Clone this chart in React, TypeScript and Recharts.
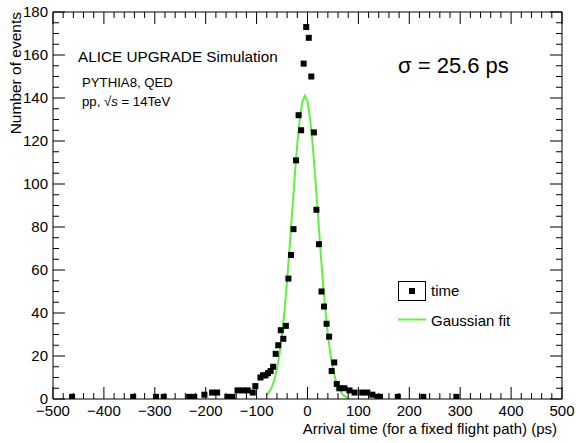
import React from 'react';
import { ComposedChart, XAxis, YAxis, Scatter, Line, Customized } from 'recharts';

// Histogram bin centres (ps) and counts ("time")
const timeX = [
  -462.5, -342.5, -297.5, -282.5, -232.5, -222.5, -202.5, -187.5, -177.5, -157.5,
  -147.5, -137.5, -127.5, -117.5, -107.5, -102.5, -92.5, -87.5, -82.5, -77.5,
  -72.5, -67.5, -62.5, -57.5, -52.5, -47.5, -42.5, -37.5, -32.5, -27.5,
  -22.5, -17.5, -12.5, -7.5, -2.5, 2.5, 7.5, 12.5, 17.5, 22.5,
  27.5, 32.5, 37.5, 42.5, 47.5, 52.5, 57.5, 62.5, 72.5, 82.5,
  92.5, 107.5, 117.5, 127.5, 137.5, 142.5, 177.5, 227.5, 292.5,
];
const timeCounts = [
  1, 1, 1, 1, 1, 1, 2, 3, 3, 1,
  1, 4, 4, 4, 3, 6, 10, 11, 11, 12,
  13, 15, 21, 25, 32, 28, 34, 56, 67, 79,
  111, 132, 125, 156, 173, 168, 150, 124, 88, 72,
  50, 43, 35, 29, 13, 17, 7, 5, 5, 4,
  3, 3, 3, 2, 1, 1, 1, 1, 1,
];

// Gaussian fit curve
const fitX = [
  -80, -75, -70, -65, -60, -55, -50, -45, -40, -35, -30, -25, -20, -15, -10, -5,
  0, 5, 10, 15, 20, 25, 30, 35, 40, 45, 50, 55, 60, 65, 70, 75, 80,
];
const fitY = [
  1.9, 3.4, 5.6, 9.0, 14.0, 20.9, 30.1, 41.6, 55.4, 71.0, 87.5, 103.9, 118.8, 130.6, 138.3, 141,
  138.3, 130.6, 118.8, 103.9, 87.5, 71.0, 55.4, 41.6, 30.1, 20.9, 14.0, 9.0, 5.6, 3.4, 1.9, 1.0, 0.6,
];

const xTicks = Array.from({ length: 51 }, (_, i) => -500 + i * 20);
const yTicks = Array.from({ length: 37 }, (_, i) => i * 5);

const timeData = timeX.map((x, i) => ({ x, y: timeCounts[i] }));
const fitData = fitX.map((x, i) => ({ x, y: fitY[i] }));

const FONT = '"Liberation Sans", Arial, Helvetica, sans-serif';
const GREEN = '#62f043';

const fmt = (v: number) => (v < 0 ? '\u2212' + Math.abs(v) : String(v));

const BottomTick = (props: any) => {
  const { x, y, payload } = props;
  const v = payload.value;
  const major = v % 100 === 0;
  return (
    <g>
      <line x1={x} x2={x} y1={y} y2={y - (major ? 12 : 6)} stroke="#000" strokeWidth={1} />
      {major && (
        <text x={x} y={y + 17} textAnchor="middle" fontSize={15} fontFamily={FONT} fill="#000">
          {fmt(v)}
        </text>
      )}
    </g>
  );
};

const TopTick = (props: any) => {
  const { x, y, payload } = props;
  const major = payload.value % 100 === 0;
  return <line x1={x} x2={x} y1={y} y2={y + (major ? 12 : 6)} stroke="#000" strokeWidth={1} />;
};

const LeftTick = (props: any) => {
  const { x, y, payload } = props;
  const v = payload.value;
  const major = v % 20 === 0;
  return (
    <g>
      <line x1={x} x2={x + (major ? 12 : 6)} y1={y} y2={y} stroke="#000" strokeWidth={1} />
      {major && (
        <text x={x - 5} y={y + 5} textAnchor="end" fontSize={15} fontFamily={FONT} fill="#000">
          {v}
        </text>
      )}
    </g>
  );
};

const RightTick = (props: any) => {
  const { x, y, payload } = props;
  const major = payload.value % 20 === 0;
  return <line x1={x} x2={x - (major ? 12 : 6)} y1={y} y2={y} stroke="#000" strokeWidth={1} />;
};

const SquareShape = (props: any) => {
  const { cx, cy } = props;
  return <rect x={cx - 3} y={cy - 3} width={6} height={6} fill="#000" />;
};

const Overlay = () => (
  <g fontFamily={FONT} fill="#000">
    <text x={78} y={62} fontSize={15.3}>ALICE UPGRADE Simulation</text>
    <text x={82} y={87} fontSize={13.2}>PYTHIA8, QED</text>
    <text x={82} y={106} fontSize={13.2}>
      pp, √<tspan fontStyle="italic">s</tspan> = 14TeV
    </text>
    <text x={398} y={73} fontSize={22}>σ = 25.6 ps</text>
    <rect x={398.5} y={281.5} width={27} height={19} fill="#fff" stroke="#000" strokeWidth={1} />
    <rect x={409} y={288} width={6} height={6} fill="#000" />
    <text x={431} y={296} fontSize={15}>time</text>
    <line x1={398} x2={426} y1={319.5} y2={319.5} stroke={GREEN} strokeWidth={2} />
    <text x={431} y={326} fontSize={15}>Gaussian fit</text>
    <text x={557} y={434} fontSize={15} textAnchor="end">Arrival time (for a fixed flight path) (ps)</text>
    <text transform="translate(21,12) rotate(-90)" fontSize={15.5} textAnchor="end">Number of events</text>
  </g>
);

export default function App() {
  return (
    <div style={{ position: 'absolute', left: 0, top: 0, background: '#fff' }}>
      <ComposedChart width={576} height={443} margin={{ top: 0, right: 0, bottom: 0, left: 0 }}>
        <XAxis
          xAxisId="bottom"
          dataKey="x"
          type="number"
          domain={[-500, 500]}
          ticks={xTicks}
          interval={0}
          allowDataOverflow
          height={44}
          tickSize={0}
          tickMargin={0}
          tickLine={false}
          axisLine={{ stroke: '#000', strokeWidth: 1 }}
          tick={<BottomTick />}
        />
        <XAxis
          xAxisId="top"
          orientation="top"
          dataKey="x"
          type="number"
          domain={[-500, 500]}
          ticks={xTicks}
          interval={0}
          allowDataOverflow
          height={12}
          tickSize={0}
          tickMargin={0}
          tickLine={false}
          axisLine={{ stroke: '#000', strokeWidth: 1 }}
          tick={<TopTick />}
        />
        <YAxis
          yAxisId="left"
          type="number"
          domain={[0, 180]}
          ticks={yTicks}
          interval={0}
          allowDataOverflow
          width={53}
          tickSize={0}
          tickMargin={0}
          tickLine={false}
          axisLine={{ stroke: '#000', strokeWidth: 1 }}
          tick={<LeftTick />}
        />
        <YAxis
          yAxisId="right"
          orientation="right"
          type="number"
          domain={[0, 180]}
          ticks={yTicks}
          interval={0}
          allowDataOverflow
          width={14}
          tickSize={0}
          tickMargin={0}
          tickLine={false}
          axisLine={{ stroke: '#000', strokeWidth: 1 }}
          tick={<RightTick />}
        />
        <Line
          xAxisId="bottom"
          yAxisId="left"
          data={fitData}
          dataKey="y"
          type="linear"
          stroke={GREEN}
          strokeWidth={2}
          dot={false}
          isAnimationActive={false}
        />
        <Scatter
          xAxisId="bottom"
          yAxisId="left"
          data={timeData}
          dataKey="y"
          fill="#000"
          shape={<SquareShape />}
          isAnimationActive={false}
        />
        <Customized component={<Overlay />} />
      </ComposedChart>
    </div>
  );
}
